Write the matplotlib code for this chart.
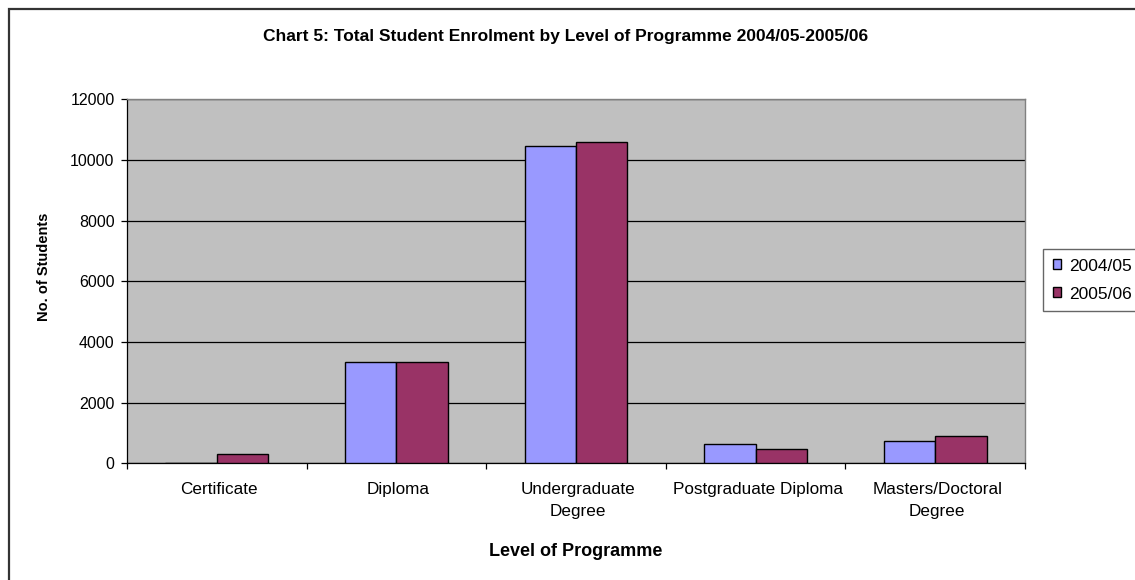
import matplotlib
matplotlib.use("Agg")
import matplotlib.pyplot as plt
import matplotlib.transforms as mtransforms
from matplotlib.patches import Rectangle
import numpy as np

plt.rcParams['font.family'] = ['Liberation Sans', 'DejaVu Sans']

categories = ["Certificate", "Diploma", "Undergraduate\nDegree",
              "Postgraduate Diploma", "Masters/Doctoral\nDegree"]
series_names = ["2004/05", "2005/06"]
values_2004 = [0, 3340, 10470, 636, 745]
values_2005 = [307, 3340, 10580, 471, 910]
colors = ["#9999FF", "#993366"]
yticks = [0, 2000, 4000, 6000, 8000, 10000, 12000]

W, H = 1135, 580
fig = plt.figure(figsize=(W / 100, H / 100), dpi=100)
fig.patch.set_facecolor("white")

# outer chart border (extends past right/bottom edges)
fig.patches.append(Rectangle((8.5 / W, -0.05), 1.1, (H - 8.5) / H + 0.05,
                             transform=fig.transFigure, fill=False,
                             edgecolor="#333333", linewidth=1.6, clip_on=False))

left, right, top, bottom = 127, 1025, 99.3, 463.3
ax = fig.add_axes([left / W, (H - bottom) / H, (right - left) / W, (bottom - top) / H])
ax.set_facecolor("#C0C0C0")

x = np.arange(len(categories))
bw = 1 / 3.5
ax.bar(x - bw / 2, values_2004, width=bw, color=colors[0], edgecolor="black",
       linewidth=1.0, label=series_names[0], zorder=3)
ax.bar(x + bw / 2, values_2005, width=bw, color=colors[1], edgecolor="black",
       linewidth=1.0, label=series_names[1], zorder=3)

ax.set_xlim(-0.5, len(categories) - 0.5)
ax.set_ylim(0, 12000)
ax.set_yticks(yticks)
ax.set_yticklabels([str(v) for v in yticks], fontsize=11.5)
ax.yaxis.grid(True, color="black", linewidth=0.9, zorder=1)
ax.set_axisbelow(True)

# x ticks between categories, labels at category centres
ax.set_xticks(np.arange(-0.5, len(categories), 1.0), minor=False)
ax.set_xticklabels([])
ax.set_xticks(x, minor=True)
ax.set_xticklabels(categories, minor=True, fontsize=12.3, linespacing=1.59)
ax.tick_params(axis="x", which="minor", length=0, pad=13.5)
ax.tick_params(axis="x", which="major", length=4, width=0.9, direction="out")
ax.tick_params(axis="y", length=4, width=0.9, direction="out", pad=5)
offset = mtransforms.ScaledTranslation(2 / 100, 0, fig.dpi_scale_trans)
for lab in ax.xaxis.get_minorticklabels():
    lab.set_transform(lab.get_transform() + offset)

for side in ["top", "right"]:
    ax.spines[side].set_color("#808080")
    ax.spines[side].set_linewidth(1.0)
ax.spines["left"].set_color("black")
ax.spines["bottom"].set_color("black")
ax.spines["left"].set_linewidth(0.9)
ax.spines["bottom"].set_linewidth(0.9)

fig.text(566 / W, 1 - 37 / H, "Chart 5: Total Student Enrolment by Level of Programme 2004/05-2005/06",
         ha="center", va="center", fontsize=12.5, fontweight="bold")
fig.text(576 / W, 1 - 552 / H, "Level of Programme", ha="center", va="center",
         fontsize=13, fontweight="bold")
fig.text(43.5 / W, 1 - 267 / H, "No. of Students", ha="center", va="center",
         rotation=90, fontsize=10.5, fontweight="bold")

leg = fig.legend(loc="upper left", bbox_to_anchor=(1043 / W, 1 - 249 / H),
                 frameon=True, fancybox=False, fontsize=12.5, handlelength=0.5,
                 handleheight=0.5, handletextpad=0.45, labelspacing=0.75,
                 borderpad=0.55, borderaxespad=0)
leg.get_frame().set_edgecolor("#404040")
leg.get_frame().set_linewidth(1.0)

fig.savefig("out.png", dpi=100)
